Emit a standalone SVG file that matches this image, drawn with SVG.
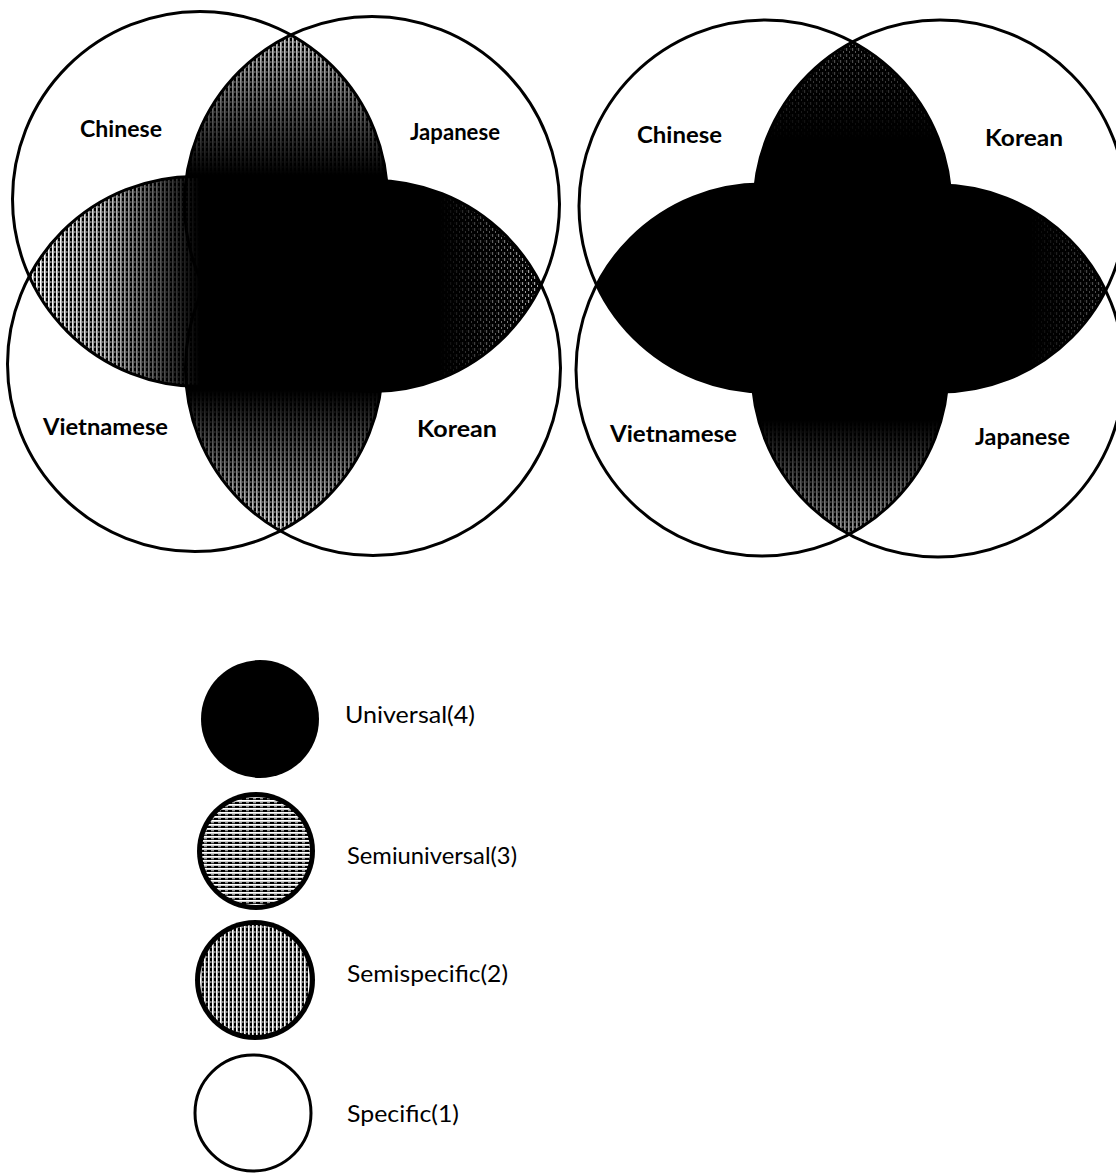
<svg xmlns="http://www.w3.org/2000/svg" width="1116" height="1173" viewBox="0 0 1116 1173">
<style>
.ring{fill:none;stroke:#000;stroke-width:3}
.lbl{font-family:Lato,"Open Sans","Liberation Sans",sans-serif;font-weight:700;font-size:23px;fill:#000}
.leg{font-family:Lato,"Open Sans","Liberation Sans",sans-serif;font-weight:400;font-size:23px;fill:#000}
</style>
<defs>
<pattern id="vstripe" width="4" height="5" patternUnits="userSpaceOnUse">
<rect x="0" y="0" width="1.7" height="5" fill="#fff"/>
<rect x="2.5" y="1" width="0.8" height="2" fill="#fff"/>
</pattern>
<pattern id="hstripe" width="7" height="4" patternUnits="userSpaceOnUse">
<rect x="0" y="0" width="7" height="1.8" fill="#fff"/>
<rect x="1" y="2.4" width="3" height="0.8" fill="#fff"/>
</pattern>
<pattern id="speck" width="6" height="6" patternUnits="userSpaceOnUse">
<rect x="0" y="0" width="1.2" height="3" fill="#fff"/>
<rect x="3" y="3" width="1" height="2" fill="#fff"/>
<rect x="4.5" y="0.5" width="0.8" height="1" fill="#fff"/>
</pattern>
<clipPath id="lTL"><circle cx="200" cy="199" r="187.5"/></clipPath>
<clipPath id="lTR"><circle cx="372" cy="204" r="187.5"/></clipPath>
<clipPath id="lBL"><circle cx="195" cy="364" r="187.5"/></clipPath>
<clipPath id="rTL"><circle cx="765" cy="206" r="186"/></clipPath>
<clipPath id="rTR"><circle cx="940" cy="206" r="186"/></clipPath>
<clipPath id="rBL"><circle cx="762" cy="370" r="186"/></clipPath>
<linearGradient id="gLl" gradientUnits="userSpaceOnUse" x1="40" y1="0" x2="200" y2="0">
<stop offset="0" stop-color="#fff" stop-opacity="1"/><stop offset="0.4" stop-color="#fff" stop-opacity="0.8"/><stop offset="1" stop-color="#fff" stop-opacity="0"/></linearGradient>
<linearGradient id="gLt" gradientUnits="userSpaceOnUse" x1="0" y1="40" x2="0" y2="175">
<stop offset="0" stop-color="#fff" stop-opacity="0.8"/><stop offset="1" stop-color="#fff" stop-opacity="0"/></linearGradient>
<linearGradient id="gLb" gradientUnits="userSpaceOnUse" x1="0" y1="525" x2="0" y2="390">
<stop offset="0" stop-color="#fff" stop-opacity="0.85"/><stop offset="1" stop-color="#fff" stop-opacity="0"/></linearGradient>
<linearGradient id="gLr" gradientUnits="userSpaceOnUse" x1="540" y1="0" x2="440" y2="0">
<stop offset="0" stop-color="#fff" stop-opacity="0.7"/><stop offset="1" stop-color="#fff" stop-opacity="0"/></linearGradient>
<linearGradient id="gRt" gradientUnits="userSpaceOnUse" x1="0" y1="45" x2="0" y2="140">
<stop offset="0" stop-color="#fff" stop-opacity="0.35"/><stop offset="1" stop-color="#fff" stop-opacity="0"/></linearGradient>
<linearGradient id="gRb" gradientUnits="userSpaceOnUse" x1="0" y1="530" x2="0" y2="420">
<stop offset="0" stop-color="#fff" stop-opacity="0.6"/><stop offset="1" stop-color="#fff" stop-opacity="0"/></linearGradient>
<linearGradient id="gRr" gradientUnits="userSpaceOnUse" x1="1105" y1="0" x2="1030" y2="0">
<stop offset="0" stop-color="#fff" stop-opacity="0.35"/><stop offset="1" stop-color="#fff" stop-opacity="0"/></linearGradient>
<mask id="mLl" maskUnits="userSpaceOnUse" x="0" y="0" width="1116" height="1173"><rect width="1116" height="1173" fill="url(#gLl)"/></mask>
<mask id="mLt" maskUnits="userSpaceOnUse" x="0" y="0" width="1116" height="1173"><rect width="1116" height="1173" fill="url(#gLt)"/></mask>
<mask id="mLb" maskUnits="userSpaceOnUse" x="0" y="0" width="1116" height="1173"><rect width="1116" height="1173" fill="url(#gLb)"/></mask>
<mask id="mLr" maskUnits="userSpaceOnUse" x="0" y="0" width="1116" height="1173"><rect width="1116" height="1173" fill="url(#gLr)"/></mask>
<mask id="mRt" maskUnits="userSpaceOnUse" x="0" y="0" width="1116" height="1173"><rect width="1116" height="1173" fill="url(#gRt)"/></mask>
<mask id="mRb" maskUnits="userSpaceOnUse" x="0" y="0" width="1116" height="1173"><rect width="1116" height="1173" fill="url(#gRb)"/></mask>
<mask id="mRr" maskUnits="userSpaceOnUse" x="0" y="0" width="1116" height="1173"><rect width="1116" height="1173" fill="url(#gRr)"/></mask>
</defs>
<rect width="1116" height="1173" fill="#fff"/>

<g id="venn-left">
<g id="left-overlaps" fill="#000">
<circle cx="372" cy="204" r="187.5" clip-path="url(#lTL)"/>
<circle cx="195" cy="364" r="187.5" clip-path="url(#lTL)"/>
<circle cx="373" cy="368" r="187.5" clip-path="url(#lTR)"/>
<circle cx="373" cy="368" r="187.5" clip-path="url(#lBL)"/>
</g>
<g id="left-textures">
<g mask="url(#mLl)"><circle cx="195" cy="364" r="187.5" clip-path="url(#lTL)" fill="url(#vstripe)"/></g>
<g mask="url(#mLt)"><circle cx="372" cy="204" r="187.5" clip-path="url(#lTL)" fill="url(#vstripe)"/></g>
<g mask="url(#mLb)"><circle cx="373" cy="368" r="187.5" clip-path="url(#lBL)" fill="url(#vstripe)"/></g>
<g mask="url(#mLr)"><circle cx="373" cy="368" r="187.5" clip-path="url(#lTR)" fill="url(#speck)"/></g>
</g>
<g id="left-chinese"><circle class="ring" cx="200" cy="199" r="187.5"/><text class="lbl" x="80" y="137" textLength="82" lengthAdjust="spacingAndGlyphs">Chinese</text></g>
<g id="left-japanese"><circle class="ring" cx="372" cy="204" r="187.5"/><text class="lbl" x="410" y="140" textLength="90" lengthAdjust="spacingAndGlyphs">Japanese</text></g>
<g id="left-vietnamese"><circle class="ring" cx="195" cy="364" r="187.5"/><text class="lbl" x="43" y="435" textLength="125" lengthAdjust="spacingAndGlyphs">Vietnamese</text></g>
<g id="left-korean"><circle class="ring" cx="373" cy="368" r="187.5"/><text class="lbl" x="417" y="437" textLength="80" lengthAdjust="spacingAndGlyphs">Korean</text></g>
</g>

<g id="venn-right">
<g id="right-overlaps" fill="#000">
<circle cx="940" cy="206" r="186" clip-path="url(#rTL)"/>
<circle cx="762" cy="370" r="186" clip-path="url(#rTL)"/>
<circle cx="938" cy="371" r="186" clip-path="url(#rTR)"/>
<circle cx="938" cy="371" r="186" clip-path="url(#rBL)"/>
</g>
<g id="right-textures">
<g mask="url(#mRt)"><circle cx="940" cy="206" r="186" clip-path="url(#rTL)" fill="url(#speck)"/></g>
<g mask="url(#mRb)"><circle cx="938" cy="371" r="186" clip-path="url(#rBL)" fill="url(#vstripe)"/></g>
<g mask="url(#mRr)"><circle cx="938" cy="371" r="186" clip-path="url(#rTR)" fill="url(#speck)"/></g>
</g>
<g id="right-chinese"><circle class="ring" cx="765" cy="206" r="186"/><text class="lbl" x="637" y="143" textLength="85" lengthAdjust="spacingAndGlyphs">Chinese</text></g>
<g id="right-korean"><circle class="ring" cx="940" cy="206" r="186"/><text class="lbl" x="985" y="146" textLength="78" lengthAdjust="spacingAndGlyphs">Korean</text></g>
<g id="right-vietnamese"><circle class="ring" cx="762" cy="370" r="186"/><text class="lbl" x="610" y="442" textLength="127" lengthAdjust="spacingAndGlyphs">Vietnamese</text></g>
<g id="right-japanese"><circle class="ring" cx="938" cy="371" r="186"/><text class="lbl" x="975" y="445" textLength="95" lengthAdjust="spacingAndGlyphs">Japanese</text></g>
</g>

<g id="connectors"/>

<g id="legend">
<g id="legend-universal"><circle cx="260" cy="719" r="59" fill="#000"/><text class="leg" x="345" y="723" textLength="130" lengthAdjust="spacingAndGlyphs">Universal(4)</text></g>
<g id="legend-semiuniversal"><circle cx="256" cy="851" r="59" fill="#000"/><circle cx="256" cy="851" r="54" fill="url(#hstripe)"/><text class="leg" x="347" y="864" textLength="170" lengthAdjust="spacingAndGlyphs">Semiuniversal(3)</text></g>
<g id="legend-semispecific"><circle cx="255" cy="980" r="60" fill="#000"/><circle cx="255" cy="980" r="55" fill="url(#vstripe)"/><text class="leg" x="347" y="982" textLength="161" lengthAdjust="spacingAndGlyphs">Semispecific(2)</text></g>
<g id="legend-specific"><circle cx="253" cy="1113" r="58" fill="#fff" stroke="#000" stroke-width="3"/><text class="leg" x="347" y="1122" textLength="112" lengthAdjust="spacingAndGlyphs">Specific(1)</text></g>
</g>
</svg>
